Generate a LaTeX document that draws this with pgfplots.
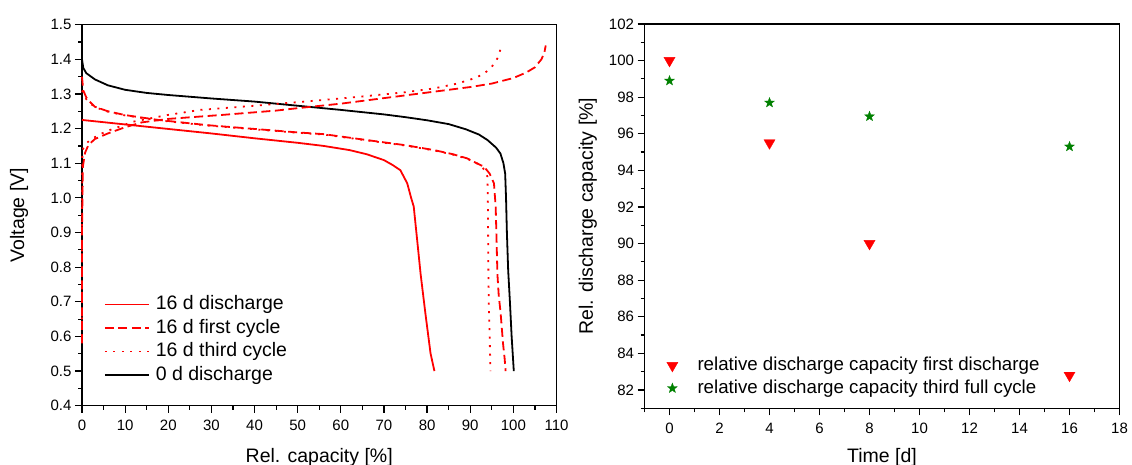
\documentclass[border=0pt]{standalone}
\usepackage{fontspec}
\setmainfont{Liberation Sans}
\usepackage{pgfplots}
\pgfplotsset{compat=1.18}

\definecolor{ored}{RGB}{255,0,0}
\definecolor{ogreen}{RGB}{0,128,0}

\pgfdeclareplotmark{fstar}{%
  \pgfpathmoveto{\pgfpointpolar{90}{\pgfplotmarksize}}%
  \pgfpathlineto{\pgfpointpolar{126}{0.42\pgfplotmarksize}}%
  \pgfpathlineto{\pgfpointpolar{162}{\pgfplotmarksize}}%
  \pgfpathlineto{\pgfpointpolar{198}{0.42\pgfplotmarksize}}%
  \pgfpathlineto{\pgfpointpolar{234}{\pgfplotmarksize}}%
  \pgfpathlineto{\pgfpointpolar{270}{0.42\pgfplotmarksize}}%
  \pgfpathlineto{\pgfpointpolar{306}{\pgfplotmarksize}}%
  \pgfpathlineto{\pgfpointpolar{342}{0.42\pgfplotmarksize}}%
  \pgfpathlineto{\pgfpointpolar{18}{\pgfplotmarksize}}%
  \pgfpathlineto{\pgfpointpolar{54}{0.42\pgfplotmarksize}}%
  \pgfpathclose
  \pgfusepathqfillstroke
}

\pgfplotsset{
  common/.style={
    scale only axis,
    axis line style={line width=1.5pt, black},
    tick style={line width=1.2pt, black},
    tick align=outside,
    major tick length=7pt,
    minor tick length=4pt,
    xtick pos=left, ytick pos=left,
    tick label style={font=\fontsize{15}{17}\selectfont},
    xticklabel style={yshift=-4pt},
    /pgf/number format/assume math mode=true,
    label style={font=\fontsize{19.5}{23}\selectfont, inner sep=0pt},
    clip=false,
  }
}

\begin{document}
\begin{tikzpicture}
\useasboundingbox (0pt,0pt) rectangle (1132pt,465pt);

% ---------------- left axis ----------------
\begin{axis}[common,
  at={(82pt,59.3pt)}, anchor=south west,
  width=474.5pt, height=381pt,
  xmin=0, xmax=110, ymin=0.4, ymax=1.5,
  xtick={0,10,20,30,40,50,60,70,80,90,100,110},
  minor xtick={5,15,25,35,45,55,65,75,85,95,105},
  ytick={0.4,0.5,0.6,0.7,0.8,0.9,1.0,1.1,1.2,1.3,1.4,1.5},
  minor ytick={0.45,0.55,0.65,0.75,0.85,0.95,1.05,1.15,1.25,1.35,1.45},
  yticklabel style={/pgf/number format/.cd, fixed, fixed zerofill, precision=1},
  xlabel={Rel. capacity [\%]},
  ylabel={Voltage [V]},
  xlabel style={at={(axis description cs:0.5,-0.111)}, anchor=north},
  ylabel style={at={(axis description cs:-0.1132,0.5)}, anchor=south},
  legend style={draw=none, fill=none, inner sep=0pt, outer sep=0pt,
    at={(axis description cs:0.0464,0.289)}, anchor=north west,
    row sep=5.5pt, column sep=6pt,
    font=\fontsize{19.5}{23}\selectfont,
    nodes={inner sep=0pt, text height=14pt, text depth=4pt}},
  legend cell align=left,
  legend image code/.code={\draw[#1] (0pt,0pt) -- (44pt,0pt);},
]
% 16 d discharge
\addplot[ored, line width=1.8pt] coordinates {
(0,1.225)(10,1.212)(20,1.199)(30,1.186)(40,1.172)(50,1.159)(56,1.150)(62,1.138)
(66,1.126)(70,1.109)(72,1.095)(73.8,1.080)(75.4,1.042)(76.3,1.0)(76.9,0.975)
(77.7,0.878)(78.5,0.78)(79.6,0.667)(80.8,0.551)(81.7,0.5)};
\addlegendentry{16 d discharge}
% 16 d first cycle (discharge)
\addplot[ored, line width=1.8pt, dash pattern=on 9pt off 4.5pt] coordinates {
(0,1.35)(0.3,1.31)(1,1.29)(2,1.275)(3,1.263)(6,1.25)(10,1.239)(17.7,1.225)(29,1.210)
(41,1.198)(50,1.189)(56,1.184)(66,1.167)(75,1.152)(81.6,1.138)(86,1.126)(89.3,1.114)
(91.5,1.10)(93.2,1.090)(94.5,1.07)(95.5,1.042)(95.9,0.975)(96.1,0.88)(96.3,0.78)
(96.6,0.72)(97.05,0.667)(97.6,0.58)(98.0,0.533)(98.2,0.5)};
\addlegendentry{16 d first cycle}
% 16 d third cycle (discharge)
\addplot[ored, line width=1.8pt, dash pattern=on 2pt off 6.5pt] coordinates {
(0,1.31)(0.3,1.30)(1,1.285)(2,1.272)(3,1.262)(6,1.249)(10,1.238)(17.7,1.224)(29,1.209)
(41,1.197)(50,1.188)(56,1.183)(66,1.166)(75,1.151)(81.6,1.137)(86,1.125)(89.3,1.113)
(91.5,1.10)(92.4,1.095)(93.3,1.08)(94.0,1.061)(94.1,0.975)(94.2,0.8)(94.3,0.7)
(94.5,0.6)(94.7,0.5)};
\addlegendentry{16 d third cycle}
% 0 d discharge
\addplot[black, line width=1.8pt] coordinates {
(0,1.40)(0.3,1.375)(1,1.36)(3,1.342)(6,1.325)(10,1.312)(15,1.303)(20,1.297)(30,1.287)
(40,1.278)(50,1.266)(60,1.254)(70,1.241)(75,1.233)(80,1.224)(85,1.213)(89,1.198)
(92,1.183)(94,1.167)(96,1.145)(97,1.128)(97.7,1.10)(98.1,1.07)(98.3,1.0)(98.5,0.9)
(98.8,0.79)(99.2,0.7)(99.6,0.6)(100.1,0.5)};
\addlegendentry{0 d discharge}
% 16 d first cycle (charge)
\addplot[ored, line width=1.8pt, dash pattern=on 9pt off 4.5pt, forget plot] coordinates {
(0,0.58)(0,0.9)(0.2,1.09)(0.7,1.13)(1.5,1.153)(3,1.17)(6,1.186)(10,1.204)(13.9,1.218)
(20,1.228)(33,1.240)(45,1.252)(50,1.259)(60,1.272)(70,1.288)(80,1.304)(90,1.320)
(95,1.330)(100,1.346)(103,1.362)(105,1.377)(106.5,1.40)(107.2,1.42)(107.5,1.44)};
% 16 d third cycle (charge)
\addplot[ored, line width=1.8pt, dash pattern=on 2pt off 6.5pt, forget plot] coordinates {
(0,0.60)(0,0.95)(0.1,1.138)(0.8,1.155)(1.9,1.167)(4,1.183)(6.5,1.196)(11.9,1.220)
(19.7,1.239)(27.4,1.254)(39,1.265)(50.6,1.277)(60,1.287)(66,1.294)(75,1.305)
(81.6,1.316)(87,1.330)(90.9,1.345)(93,1.357)(94.7,1.374)(95.7,1.39)(96.3,1.403)(97.05,1.43)};
\end{axis}

% ---------------- right axis ----------------
\begin{axis}[common,
  at={(644.5pt,56.7pt)}, anchor=south west,
  width=475pt, height=384.3pt,
  xmin=-1, xmax=18, ymin=81, ymax=102,
  xtick={0,2,4,6,8,10,12,14,16,18},
  minor xtick={-1,1,3,5,7,9,11,13,15,17},
  ytick={82,84,86,88,90,92,94,96,98,100,102},
  minor ytick={81,83,85,87,89,91,93,95,97,99,101},
  xlabel={Time [d]},
  ylabel={Rel. discharge capacity [\%]},
  xlabel style={at={(axis description cs:0.5,-0.104)}, anchor=north},
  ylabel style={at={(axis description cs:-0.100,0.5)}, anchor=south},
  legend style={draw=none, fill=none, inner sep=0pt, outer sep=0pt,
    at={(axis description cs:0.047,0.134)}, anchor=north west,
    row sep=5.2pt, column sep=19.6pt,
    font=\fontsize{18.7}{22}\selectfont,
    nodes={inner sep=0pt, text height=13.6pt, text depth=3.9pt}},
  legend cell align=left,
  legend image code/.code={\draw[mark repeat=2,mark phase=2,#1] plot coordinates {(0pt,0pt) (6pt,0pt) (12pt,0pt)};},
]
\addplot[only marks, mark=triangle*, mark size=6.4pt, mark options={rotate=180, fill=ored, draw=ored, line width=0.3pt}] coordinates {
(0,100)(4,95.5)(8,90)(16,82.8)};
\addlegendentry{relative discharge capacity first discharge}
\addplot[only marks, mark=fstar, mark size=5.2pt, mark options={fill=ogreen, draw=ogreen, line width=0.3pt}] coordinates {
(0,98.9)(4,97.7)(8,96.95)(16,95.3)};
\addlegendentry{relative discharge capacity third full cycle}
\end{axis}
\end{tikzpicture}
\end{document}
